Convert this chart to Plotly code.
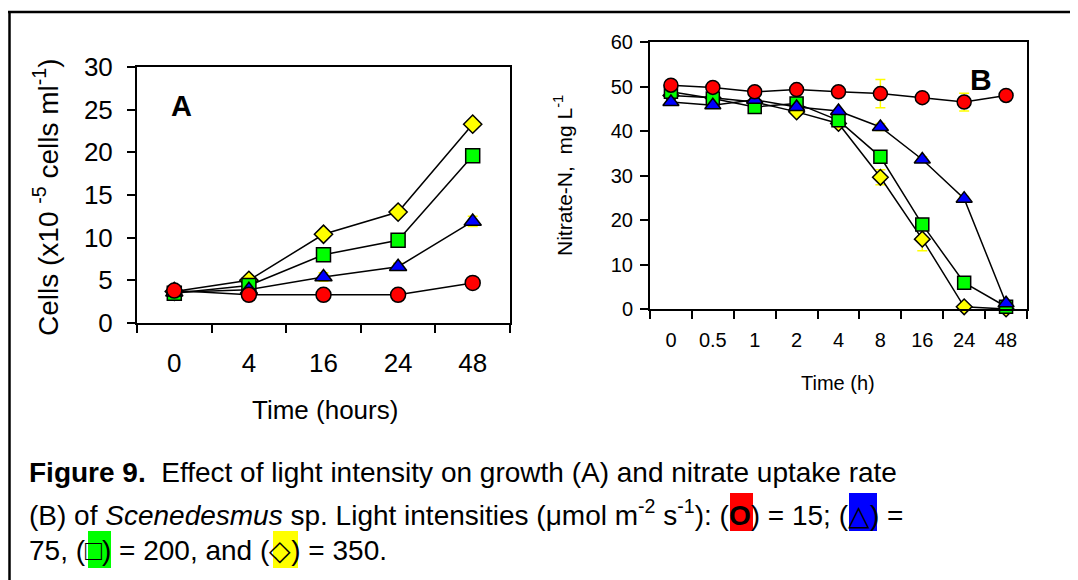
import plotly.graph_objects as go

# ---------------- data ----------------
time_a = ["0", "4", "16", "24", "48"]
cells_15 = [3.8, 3.3, 3.3, 3.3, 4.7]
cells_75 = [3.6, 3.9, 5.4, 6.6, 11.9]
cells_200 = [3.5, 4.4, 8.0, 9.7, 19.6]
cells_350 = [3.7, 5.0, 10.4, 13.0, 23.3]
err_a_15 = [0, 0, 0, 0, 0]
err_a_75 = [0, 0, 0.5, 0.4, 0.6]
err_a_200 = [0, 0, 0, 0, 0]
err_a_350 = [0, 0, 0, 0.5, 0.4]

time_b = ["0", "0.5", "1", "2", "4", "8", "16", "24", "48"]
nit_15 = [50.3, 49.8, 48.8, 49.3, 48.8, 48.4, 47.5, 46.5, 48.0]
nit_75 = [46.5, 45.8, 47.0, 45.4, 44.5, 40.9, 33.6, 24.8, 1.3]
nit_200 = [48.8, 47.3, 45.4, 46.2, 42.4, 34.2, 19.0, 5.9, 0.5]
nit_350 = [48.0, 47.5, 46.5, 44.3, 41.7, 29.6, 15.7, 0.5, 0.0]
err_b_15 = [0, 0, 0.8, 0.5, 0, 3.2, 0, 2.0, 0]
err_b_75 = [0, 0, 0, 0, 0, 0.8, 0.6, 0.5, 0]
err_b_200 = [0, 0, 0, 0, 0, 0, 0, 0, 0]
err_b_350 = [0, 0, 0, 0, 0, 1.7, 2.6, 0, 0]

FONT = "Arial, Liberation Sans, sans-serif"
YEL = "#ffff00"

series_style = [
    # name, fill, symbol, size A, size B
    ("350", YEL, "diamond", 14, 12),
    ("200", "#00ff00", "square", 14, 13),
    ("75", "#0000ff", "triangle-up", 15, 14),
    ("15", "#ff0000", "circle", 15, 14),
]
data_a = {"350": (cells_350, err_a_350), "200": (cells_200, err_a_200),
          "75": (cells_75, err_a_75), "15": (cells_15, err_a_15)}
data_b = {"350": (nit_350, err_b_350), "200": (nit_200, err_b_200),
          "75": (nit_75, err_b_75), "15": (nit_15, err_b_15)}

fig = go.Figure()
for name, col, sym, sa, sb in series_style:
    ya, ea = data_a[name]
    fig.add_trace(go.Scatter(
        x=time_a, y=ya, xaxis="x", yaxis="y", mode="lines+markers",
        line=dict(color="black", width=1.5),
        marker=dict(symbol=sym, size=sa, color=col, line=dict(color="black", width=1.5)),
        error_y=dict(type="data", array=ea, color=YEL, thickness=1.5, width=5),
        cliponaxis=False, showlegend=False, name=name))
for name, col, sym, sa, sb in series_style:
    yb, eb = data_b[name]
    fig.add_trace(go.Scatter(
        x=time_b, y=yb, xaxis="x2", yaxis="y2", mode="lines+markers",
        line=dict(color="black", width=1.5),
        marker=dict(symbol=sym, size=sb, color=col, line=dict(color="black", width=1.5)),
        error_y=dict(type="data", array=eb, color=YEL, thickness=1.5, width=5),
        cliponaxis=False, showlegend=False, name=name))

OFF = 8  # page body margin: screen pixel = figure pixel + 8
W, H = 1078 - OFF, 580 - OFF
def px(x):
    return (x - OFF) / W
def py(y):
    return 1 - (y - OFF) / H

axis_common = dict(showline=True, linecolor="black", linewidth=2, mirror=True,
                   ticks="outside", ticklen=8, tickwidth=1.5, tickcolor="black",
                   showgrid=False, zeroline=False, automargin=False)

fig.update_layout(
    width=W, height=H, margin=dict(l=0, r=0, t=0, b=0, autoexpand=False),
    paper_bgcolor="white", plot_bgcolor="white",
    font=dict(family=FONT, color="black"),
    xaxis=dict(domain=[px(137), px(510)], anchor="y", type="category",
               range=[-0.5, 4.5], tickson="boundaries", ticklabelstandoff=16,
               tickfont=dict(size=26), **axis_common),
    yaxis=dict(domain=[py(323), py(67)], anchor="x", range=[0, 30], dtick=5,
               ticklabelstandoff=9, tickfont=dict(size=26), **axis_common),
    xaxis2=dict(domain=[px(650), px(1027)], anchor="y2", type="category",
                range=[-0.5, 8.5], tickson="boundaries", ticklabelstandoff=12,
                tickfont=dict(size=20), **axis_common),
    yaxis2=dict(domain=[py(309), py(42)], anchor="x2", range=[0, 60], dtick=10,
                ticklabelstandoff=3, tickfont=dict(size=20), **axis_common),
)

def note(text, x, y, size, angle=0, xanchor="center", yanchor="middle"):
    return dict(text=text, textangle=angle, x=px(x), y=py(y), xref="paper", yref="paper",
                xanchor=xanchor, yanchor=yanchor, showarrow=False, font=dict(size=size))

ann = [
    note("Cells (x10 <sup>-5</sup> cells ml<sup>-1</sup>)", 46, 197, 28, angle=-90),
    note("Time (hours)", 325, 410, 26),
    note("<b>A</b>", 181, 106, 29),
    note("Nitrate-N,  mg L<sup>-1</sup>", 563, 176, 21, angle=-90),
    note("Time (h)", 838, 383, 20),
    note("<b>B</b>", 981, 80, 30),
]

CAP = 28
cap_lines = [
    "<b>Figure 9.</b>  Effect of light intensity on growth (A) and nitrate uptake rate",
    "(B) of <i>Scenedesmus</i> sp. Light intensities (μmol m<sup>-2</sup> s<sup>-1</sup>): "
    "(<b>O</b>) = 15; (△) =",
    "75, (□) = 200, and (◇) = 350.",
]
cap_y = [472, 513, 550]
for t, yy in zip(cap_lines, cap_y):
    ann.append(note(t, 27, yy, CAP, xanchor="left"))
fig.update_layout(annotations=ann)

def box(x0, x1, y0, y1, col):
    return dict(type="rect", xref="paper", yref="paper", x0=px(x0), x1=px(x1),
                y0=py(y1), y1=py(y0), fillcolor=col, line=dict(width=0), layer="above")

shapes = [
    dict(type="line", xref="paper", yref="paper", x0=px(9.5), x1=px(9.5), y0=-0.1, y1=py(12),
         line=dict(color="black", width=2.5)),
    dict(type="line", xref="paper", yref="paper", x0=px(8), x1=1.1, y0=py(12), y1=py(12),
         line=dict(color="black", width=2.5)),
    box(730, 753, 493, 531, "#ff0000"),
    box(849, 877, 493, 531, "#0000ff"),
    box(88, 111, 531, 568, "#00ff00"),
    box(273, 298, 531, 568, YEL),
]
fig.update_layout(shapes=shapes)

fig.write_html("out.html")
